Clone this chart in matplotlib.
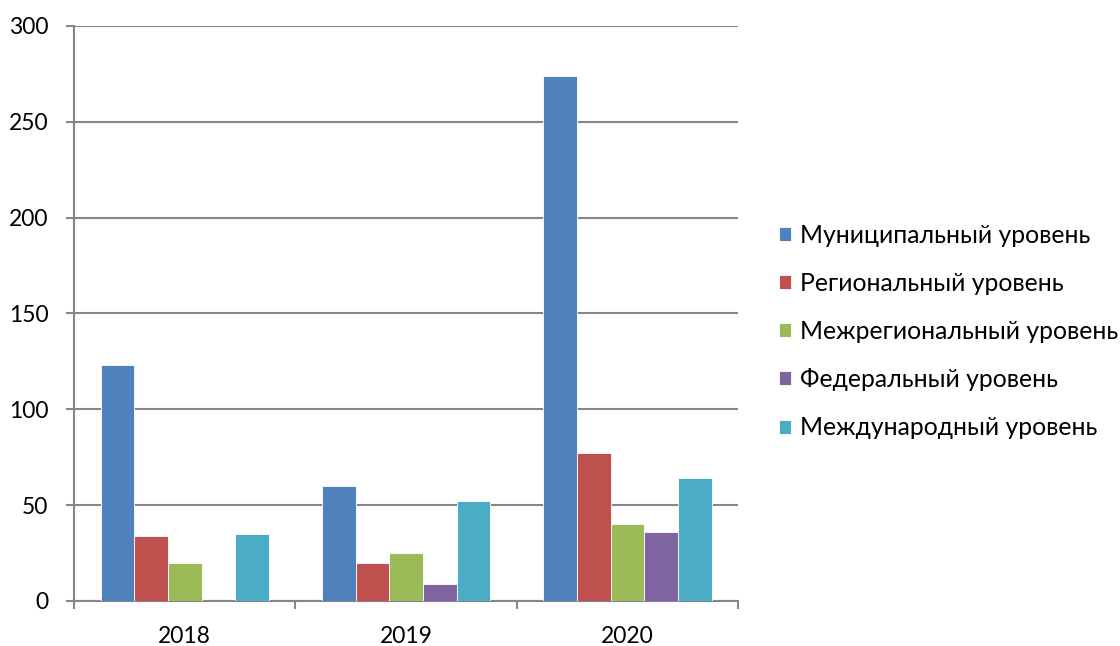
import matplotlib
matplotlib.use("Agg")
import matplotlib.pyplot as plt
import numpy as np

years = ["2018", "2019", "2020"]
series_names = ["Муниципальный уровень", "Региональный уровень", "Межрегиональный уровень",
                "Федеральный уровень", "Международный уровень"]
municipal = [123, 60, 274]
regional = [34, 20, 77]
interregional = [20, 25, 40]
federal = [0, 9, 36]
international = [35, 52, 64]
yticks = [0, 50, 100, 150, 200, 250, 300]

colors = ["#4F81BD", "#C0504D", "#9BBB59", "#8064A2", "#4BACC6"]
series = [municipal, regional, interregional, federal, international]

plt.rcParams['font.family'] = ['Lato', 'DejaVu Sans']

fig = plt.figure(figsize=(11.2, 6.46), dpi=100)
ax = fig.add_axes([0.0661, 0.0697, 0.5929, 0.8901])

x = np.arange(len(years))
bw = 0.152
for i, (vals, c, name) in enumerate(zip(series, colors, series_names)):
    offs = (i - 2) * bw
    ax.bar(x + offs, vals, width=bw, color=c, edgecolor="white", linewidth=0.6, label=name, zorder=3)

ax.set_xlim(-0.5, 2.5)
ax.set_ylim(0, 300)
ax.set_yticks(yticks)
ax.set_yticklabels([str(t) for t in yticks], fontsize=16.5)
ax.yaxis.grid(True, color="#868686", linewidth=1.5, zorder=0)
ax.set_axisbelow(True)

ax.set_xticks(x)
ax.set_xticklabels(years, fontsize=16.5)
ax.tick_params(axis='x', length=0, pad=18)
ax.set_xticks([-0.5, 0.5, 1.5, 2.5], minor=True)
ax.tick_params(axis='x', which='minor', length=6, width=1.5, color="#868686", direction='out')
ax.tick_params(axis='y', length=6, width=1.5, color="#868686", direction='out', pad=12.5)

for s in ["top", "right"]:
    ax.spines[s].set_visible(False)
for s in ["left", "bottom"]:
    ax.spines[s].set_color("#868686")
    ax.spines[s].set_linewidth(1.5)

leg = ax.legend(loc="center left", bbox_to_anchor=(0.6866, 0.4868), bbox_transform=fig.transFigure,
                borderaxespad=0, frameon=False,
                fontsize=17.8, handlelength=0.49, handleheight=0.49, handletextpad=0.36,
                labelspacing=1.02)

fig.savefig("out.png", dpi=100)
